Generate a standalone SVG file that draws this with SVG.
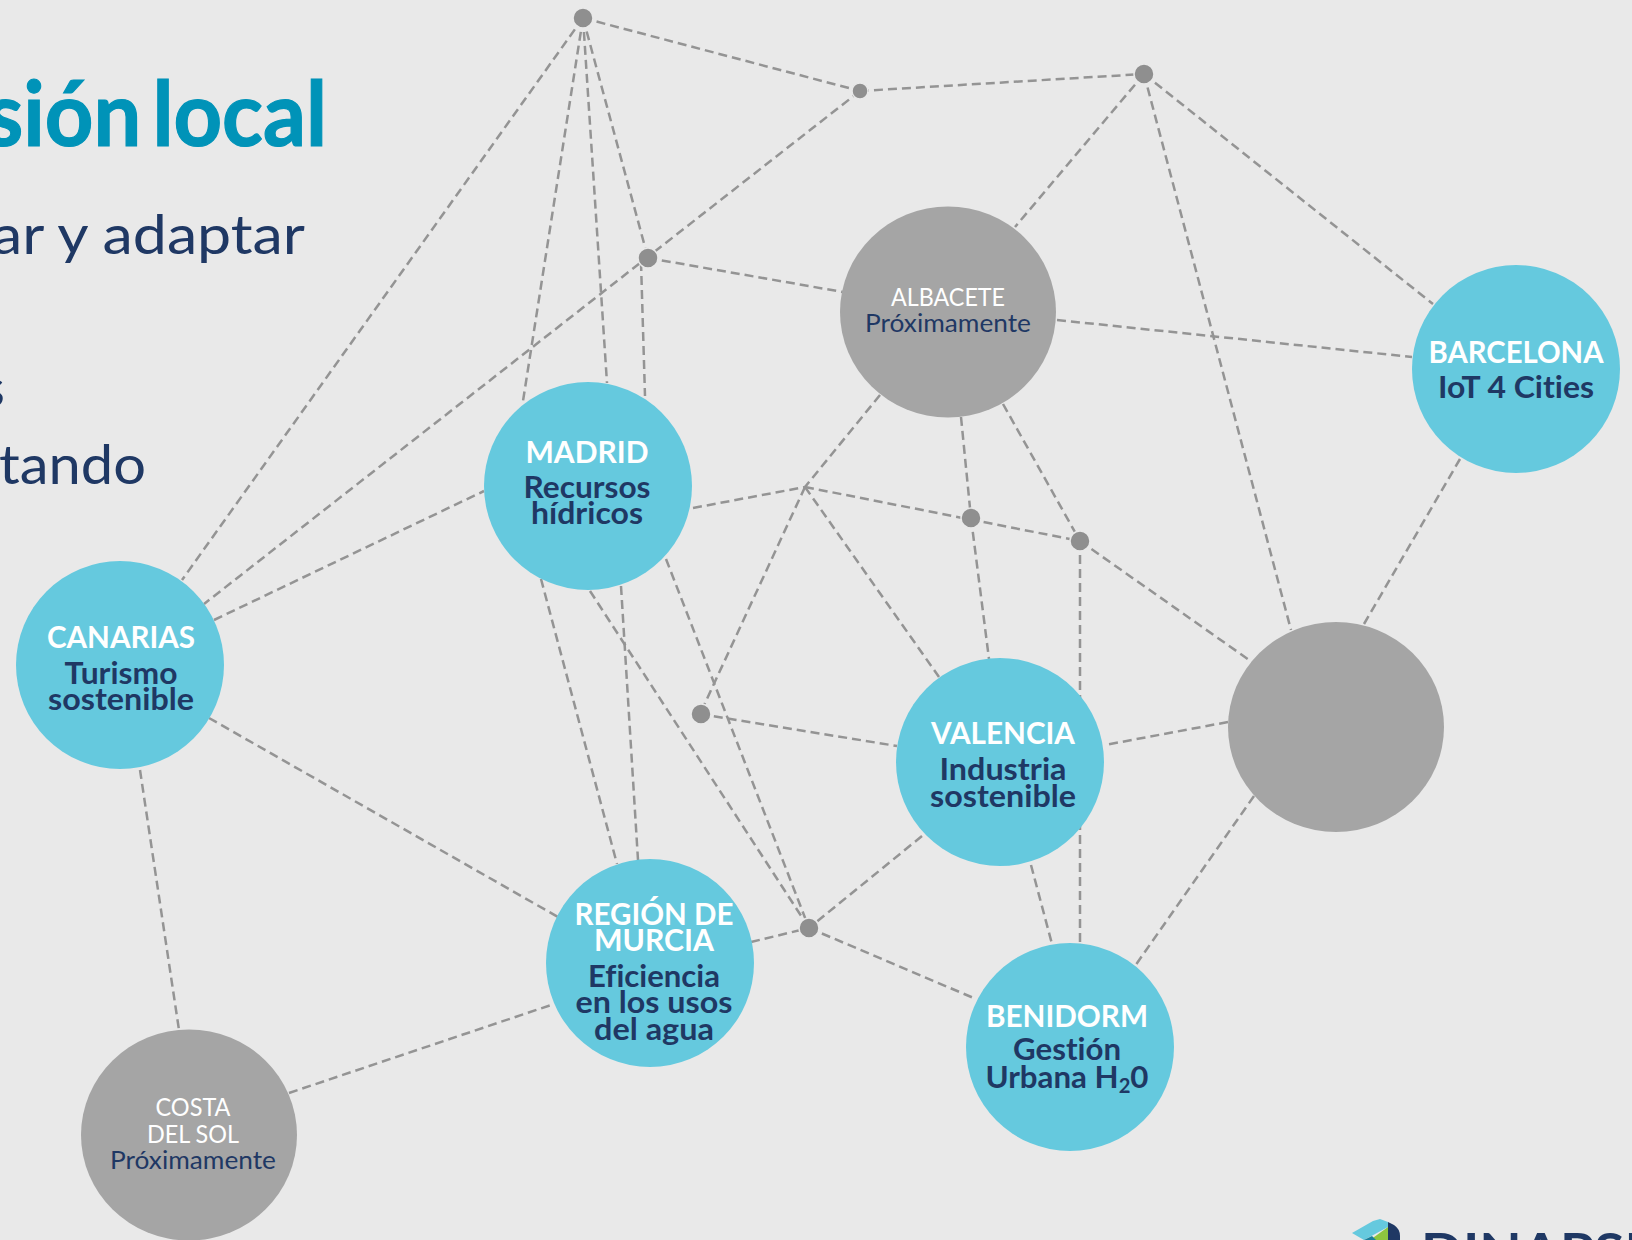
<svg xmlns="http://www.w3.org/2000/svg" width="1632" height="1240" viewBox="0 0 1632 1240">
<style>
text{font-family:"Lato","Noto Sans","Liberation Sans",sans-serif;text-anchor:middle;font-variant-ligatures:none}
.l line{stroke:#949494;stroke-width:2.5;stroke-dasharray:9 5;fill:none}
.t{fill:#65C9DE}.g{fill:#A5A5A5}.d{fill:#8F8F8F;stroke:#E9E9E9;stroke-width:1.5}
.n{font-weight:700;font-size:31px;fill:#fff}
.s{font-weight:700;font-size:31px;fill:#1F3864}
.w{font-size:25px;fill:#fff}.p{font-size:25px;fill:#1F3864}
.b{font-size:54px;fill:#1F3864;text-anchor:start}
</style>
<rect width="1632" height="1240" fill="#E9E9E9"/>
<g id="heading">
<text x="-14" y="146" textLength="341" lengthAdjust="spacingAndGlyphs" style="font-weight:700;font-size:90px;word-spacing:-10px;fill:#0093B8;stroke:#0093B8;stroke-width:1.2;text-anchor:start">sión local</text>
<text class="b" x="-8" y="254" textLength="313" lengthAdjust="spacingAndGlyphs">ar y adaptar</text>
<text class="b" x="-20" y="407" textLength="25" lengthAdjust="spacingAndGlyphs">s</text>
<text class="b" x="-1" y="484" textLength="147" lengthAdjust="spacingAndGlyphs">tando</text>
</g>
<g id="connectors" class="l">
<line x1="583" y1="18" x2="860" y2="91"/>
<line x1="860" y1="91" x2="1144" y2="74"/>
<line x1="583" y1="18" x2="182" y2="580"/>
<line x1="583" y1="18" x2="523" y2="401"/>
<line x1="583" y1="18" x2="607" y2="383"/>
<line x1="583" y1="18" x2="648" y2="258"/>
<line x1="641" y1="262" x2="645" y2="396"/>
<line x1="860" y1="91" x2="204" y2="604"/>
<line x1="648" y1="258" x2="843" y2="292"/>
<line x1="1144" y1="74" x2="1015" y2="227"/>
<line x1="1144" y1="74" x2="1291" y2="630"/>
<line x1="1144" y1="74" x2="1433" y2="304"/>
<line x1="1057" y1="320" x2="1412" y2="357"/>
<line x1="880" y1="395" x2="805" y2="487"/>
<line x1="805" y1="487" x2="700" y2="714"/>
<line x1="961" y1="417" x2="971" y2="518"/>
<line x1="971" y1="518" x2="989" y2="659"/>
<line x1="1003" y1="404" x2="1080" y2="541"/>
<line x1="693" y1="508" x2="805" y2="487"/>
<line x1="805" y1="487" x2="1080" y2="541"/>
<line x1="805" y1="487" x2="939" y2="677"/>
<line x1="1080" y1="541" x2="1080" y2="945"/>
<line x1="1080" y1="541" x2="1252" y2="662"/>
<line x1="1364" y1="624" x2="1460" y2="459"/>
<line x1="1228" y1="722" x2="1105" y2="745"/>
<line x1="1254" y1="796" x2="1135" y2="966"/>
<line x1="1031" y1="865" x2="1052" y2="944"/>
<line x1="922" y1="836" x2="809" y2="928"/>
<line x1="809" y1="928" x2="976" y2="999"/>
<line x1="751" y1="942" x2="809" y2="928"/>
<line x1="590" y1="591" x2="809" y2="928"/>
<line x1="666" y1="559" x2="809" y2="928"/>
<line x1="700" y1="714" x2="897" y2="746"/>
<line x1="541" y1="579" x2="617" y2="864"/>
<line x1="621" y1="586" x2="638" y2="860"/>
<line x1="214" y1="620" x2="484" y2="491"/>
<line x1="209" y1="718" x2="558" y2="917"/>
<line x1="140" y1="770" x2="179" y2="1030"/>
<line x1="289" y1="1093" x2="554" y2="1004"/>
</g>
<g id="dot-a"><circle class="d" cx="583" cy="18" r="10"/></g>
<g id="dot-b"><circle class="d" cx="860" cy="91" r="8"/></g>
<g id="dot-c"><circle class="d" cx="648" cy="258" r="10"/></g>
<g id="dot-d"><circle class="d" cx="1144" cy="74" r="10"/></g>
<g id="dot-f"><circle class="d" cx="971" cy="518" r="10"/></g>
<g id="dot-g"><circle class="d" cx="1080" cy="541" r="10"/></g>
<g id="dot-h"><circle class="d" cx="701" cy="714" r="10"/></g>
<g id="dot-i"><circle class="d" cx="809" cy="928" r="10"/></g>
<g id="canarias"><circle class="t" cx="120" cy="665" r="104"/>
<text class="n" x="121" y="648" textLength="148" lengthAdjust="spacingAndGlyphs">CANARIAS</text>
<text class="s" x="121" y="684" textLength="113" lengthAdjust="spacingAndGlyphs">Turismo</text>
<text class="s" x="121" y="710" textLength="146" lengthAdjust="spacingAndGlyphs">sostenible</text></g>
<g id="madrid"><circle class="t" cx="588" cy="486" r="104"/>
<text class="n" x="587" y="463" textLength="123" lengthAdjust="spacingAndGlyphs">MADRID</text>
<text class="s" x="587" y="498" textLength="127" lengthAdjust="spacingAndGlyphs">Recursos</text>
<text class="s" x="587" y="524" textLength="112" lengthAdjust="spacingAndGlyphs">hídricos</text></g>
<g id="valencia"><circle class="t" cx="1000" cy="762" r="104"/>
<text class="n" x="1003" y="744" textLength="144" lengthAdjust="spacingAndGlyphs">VALENCIA</text>
<text class="s" x="1003" y="780" textLength="127" lengthAdjust="spacingAndGlyphs">Industria</text>
<text class="s" x="1003" y="807" textLength="146" lengthAdjust="spacingAndGlyphs">sostenible</text></g>
<g id="murcia"><circle class="t" cx="650" cy="963" r="104"/>
<text class="n" x="654" y="925" textLength="159" lengthAdjust="spacingAndGlyphs">REGIÓN DE</text>
<text class="n" x="654" y="951" textLength="120" lengthAdjust="spacingAndGlyphs">MURCIA</text>
<text class="s" x="654" y="987" textLength="132" lengthAdjust="spacingAndGlyphs">Eficiencia</text>
<text class="s" x="654" y="1013" textLength="157" lengthAdjust="spacingAndGlyphs">en los usos</text>
<text class="s" x="654" y="1040" textLength="120" lengthAdjust="spacingAndGlyphs">del agua</text></g>
<g id="benidorm"><circle class="t" cx="1070" cy="1047" r="104"/>
<text class="n" x="1067" y="1027" textLength="162" lengthAdjust="spacingAndGlyphs">BENIDORM</text>
<text class="s" x="1067" y="1060" textLength="108" lengthAdjust="spacingAndGlyphs">Gestión</text>
<text class="s" x="1067" y="1088" textLength="163" lengthAdjust="spacingAndGlyphs">Urbana H<tspan font-size="20" dy="5">2</tspan><tspan dy="-5">0</tspan></text></g>
<g id="barcelona"><circle class="t" cx="1516" cy="369" r="104"/>
<text class="n" x="1516" y="363" textLength="175" lengthAdjust="spacingAndGlyphs">BARCELONA</text>
<text class="s" x="1516" y="398" textLength="156" lengthAdjust="spacingAndGlyphs">IoT 4 Cities</text></g>
<g id="albacete"><ellipse class="g" cx="948" cy="312" rx="108" ry="105.5"/>
<text class="w" x="948" y="306" textLength="114" lengthAdjust="spacingAndGlyphs">ALBACETE</text>
<text class="p" x="948" y="332" textLength="166" lengthAdjust="spacingAndGlyphs">Próximamente</text></g>
<g id="gris"><ellipse class="g" cx="1336" cy="727" rx="108" ry="105"/></g>
<g id="costa"><ellipse class="g" cx="189" cy="1135" rx="108" ry="105.5"/>
<text class="w" x="193" y="1116" textLength="75" lengthAdjust="spacingAndGlyphs">COSTA</text>
<text class="w" x="193" y="1143" textLength="92" lengthAdjust="spacingAndGlyphs">DEL SOL</text>
<text class="p" x="193" y="1169" textLength="166" lengthAdjust="spacingAndGlyphs">Próximamente</text></g>
<g id="logo">
<polygon points="1352,1233 1373,1221 1380,1219 1388,1222 1388,1227 1364,1240" fill="#65C9DE"/>
<polygon points="1388,1227 1388,1240 1370,1240" fill="#8DC63F"/>
<path d="M1388,1222 L1394,1225 Q1400,1229 1400,1236 L1400,1240 L1388,1240Z" fill="#1F3864"/>
<polygon points="1364,1240 1372,1236 1376,1240" fill="#1A7F9C"/>
<text x="1421" y="1269" textLength="250" lengthAdjust="spacingAndGlyphs" style="font-weight:700;font-size:50px;fill:#1F3864;text-anchor:start">DINAPSIS</text>
</g>
</svg>
